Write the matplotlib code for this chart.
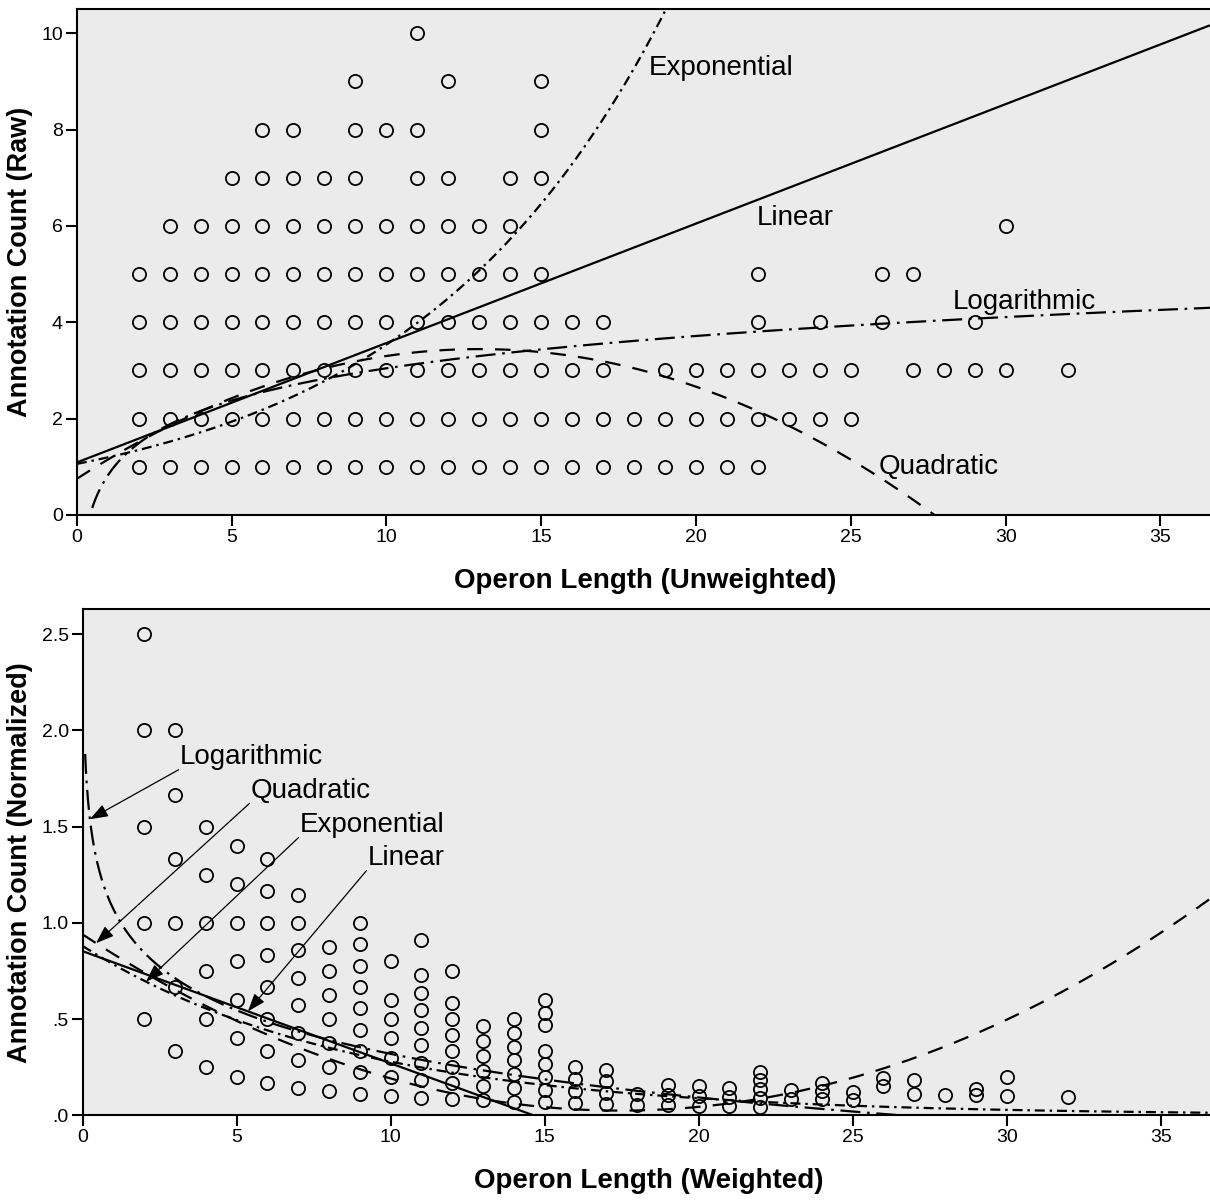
import numpy as np
import matplotlib
matplotlib.use("Agg")
import matplotlib.pyplot as plt

plt.rcParams["font.family"] = ["Liberation Sans", "DejaVu Sans"]

# ── DANE ─────────────────────────────────────────────────────────────────────
# dlugosc operonu i zaobserwowane liczby adnotacji (unikalne punkty na wykresie)
operon_len = [2, 3, 4, 5, 6, 7, 8, 9, 10, 11, 12, 13, 14, 15, 16, 17,
              18, 19, 20, 21, 22, 23, 24, 25, 26, 27, 28, 29, 30, 32]
counts_at_len = [
    [1, 2, 3, 4, 5],
    [1, 2, 3, 4, 5, 6],
    [1, 2, 3, 4, 5, 6],
    [1, 2, 3, 4, 5, 6, 7],
    [1, 2, 3, 4, 5, 6, 7, 8],
    [1, 2, 3, 4, 5, 6, 7, 8],
    [1, 2, 3, 4, 5, 6, 7],
    [1, 2, 3, 4, 5, 6, 7, 8, 9],
    [1, 2, 3, 4, 5, 6, 8],
    [1, 2, 3, 4, 5, 6, 7, 8, 10],
    [1, 2, 3, 4, 5, 6, 7, 9],
    [1, 2, 3, 4, 5, 6],
    [1, 2, 3, 4, 5, 6, 7],
    [1, 2, 3, 4, 5, 7, 8, 9],
    [1, 2, 3, 4],
    [1, 2, 3, 4],
    [1, 2],
    [1, 2, 3],
    [1, 2, 3],
    [1, 2, 3],
    [1, 2, 3, 4, 5],
    [2, 3],
    [2, 3, 4],
    [2, 3],
    [4, 5],
    [3, 5],
    [3],
    [3, 4],
    [3, 6],
    [3],
]

# wspolczynniki dopasowan
raw_linear = [1.09, 0.248]                 # a + b*x
raw_quadratic = [0.75, 0.4145, -0.01594]   # c0 + c1*x + c2*x^2
raw_exponential = [1.06, 0.1205]           # a * exp(b*x)
raw_logarithmic = [0.817, 0.968]           # a + b*ln(x)

norm_linear = [0.853, -0.0583]
norm_quadratic = [0.94, -0.1049, 0.003004]
norm_exponential = [0.88, -0.115]
norm_logarithmic = [1.072, -0.327]

x_raw = np.array([L for L, cs in zip(operon_len, counts_at_len) for _ in cs], float)
y_raw = np.array([c for cs in counts_at_len for c in cs], float)
y_norm = y_raw / x_raw

XMAX = 36.6
LINE_KW = dict(color="black", lw=1.6, solid_capstyle="butt", dash_capstyle="butt")
STYLES = {
    "Linear": "-",
    "Quadratic": (0, (7, 5.5)),
    "Exponential": (0, (4.5, 2.2, 1.1, 2.2)),
    "Logarithmic": (0, (9, 3, 1.2, 3)),
}


def models(lin, quad, expo, logc):
    return {
        "Linear": lambda x: lin[0] + lin[1] * x,
        "Quadratic": lambda x: quad[0] + quad[1] * x + quad[2] * x ** 2,
        "Exponential": lambda x: expo[0] * np.exp(expo[1] * x),
        "Logarithmic": lambda x: logc[0] + logc[1] * np.log(x),
    }


def style_axes(ax):
    ax.set_facecolor("#ebebeb")
    ax.spines["right"].set_visible(False)
    for s in ("left", "bottom", "top"):
        ax.spines[s].set_linewidth(1.5)
    ax.tick_params(direction="out", length=8, width=1.5, labelsize=14, pad=2)
    ax.set_xlim(0, XMAX)
    ax.set_xticks([0, 5, 10, 15, 20, 25, 30, 35])


fig = plt.figure(figsize=(12.1, 12.01), dpi=100)

# ── GORNY PANEL ──────────────────────────────────────────────────────────────
ax1 = fig.add_axes([0.0634, 0.5712, 1.0 - 0.0634, 0.9923 - 0.5712])
style_axes(ax1)
ax1.set_ylim(0, 10.5)
ax1.set_yticks([0, 2, 4, 6, 8, 10])
ax1.plot(x_raw, y_raw, "o", ms=9.5, mfc="none", mec="black", mew=1.3, zorder=3)

xs = np.linspace(0.005, XMAX, 1500)
m1 = models(raw_linear, raw_quadratic, raw_exponential, raw_logarithmic)
for name, f in m1.items():
    ax1.plot(xs, f(xs), linestyle=STYLES[name], **LINE_KW, zorder=4)

ax1.text(18.46, 9.28, "Exponential", fontsize=20, va="center")
ax1.text(21.95, 6.17, "Linear", fontsize=20, va="center")
ax1.text(28.3, 4.42, "Logarithmic", fontsize=20, va="center")
ax1.text(25.9, 1.0, "Quadratic", fontsize=20, va="center")

ax1.set_xlabel("Operon Length (Unweighted)", fontsize=20, fontweight="bold")
ax1.set_ylabel("Annotation Count (Raw)", fontsize=19.5, fontweight="bold")
ax1.xaxis.set_label_coords(0.502, -0.105)
ax1.yaxis.set_label_coords(-0.0386, 0.5)

# ── DOLNY PANEL ──────────────────────────────────────────────────────────────
ax2 = fig.add_axes([0.0682, 0.0714, 1.0 - 0.0682, 0.4927 - 0.0714])
style_axes(ax2)
ax2.set_ylim(0, 2.63)
ax2.set_yticks([0, 0.5, 1.0, 1.5, 2.0, 2.5])
ax2.set_yticklabels([".0", ".5", "1.0", "1.5", "2.0", "2.5"])
ax2.plot(x_raw, y_norm, "o", ms=9.5, mfc="none", mec="black", mew=1.3, zorder=3)

m2 = models(norm_linear, norm_quadratic, norm_exponential, norm_logarithmic)
for name, f in m2.items():
    start = 0.085 if name == "Logarithmic" else 0.0
    xx = np.linspace(start, XMAX, 1500)
    ax2.plot(xx, f(xx), linestyle=STYLES[name], **LINE_KW, zorder=4)

# etykiety ze strzalkami: (tekst x, tekst y, x grotu)
labels_bottom = [
    ("Logarithmic", 3.17, 1.861, 0.24),
    ("Quadratic", 5.47, 1.686, 0.44),
    ("Exponential", 7.06, 1.508, 2.06),
    ("Linear", 9.27, 1.337, 5.37),
]
for name, tx, ty, hx in labels_bottom:
    ax2.text(tx, ty, name, fontsize=20, va="center", zorder=6)
    ax2.annotate("", xy=(hx, float(m2[name](hx))), xytext=(tx - 0.05, ty - 0.065),
                 arrowprops=dict(arrowstyle="-|>,head_length=1.1,head_width=0.4",
                                 color="black", lw=0.9, shrinkA=0, shrinkB=0),
                 zorder=6)

ax2.set_xlabel("Operon Length (Weighted)", fontsize=20, fontweight="bold")
ax2.set_ylabel("Annotation Count (Normalized)", fontsize=19.5, fontweight="bold")
ax2.xaxis.set_label_coords(0.502, -0.104)
ax2.yaxis.set_label_coords(-0.0439, 0.5)

fig.savefig("out.png", dpi=100)
